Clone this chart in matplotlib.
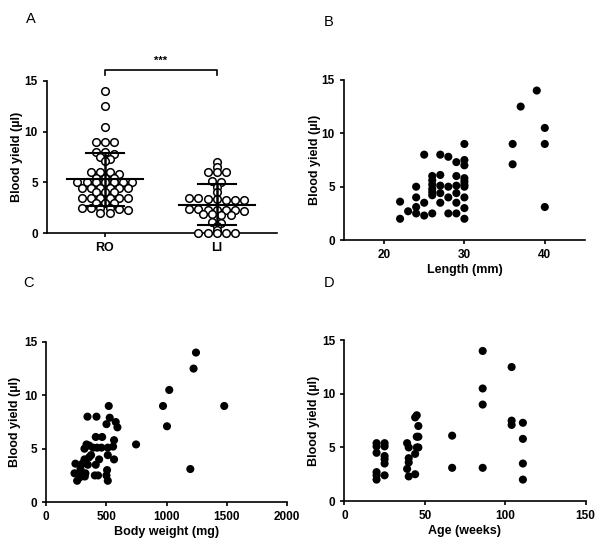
import numpy as np
from matplotlib import pyplot as plt

plt.rcParams['font.family'] = ['Liberation Sans', 'DejaVu Sans']

# panel A: blood yield per sampling site
ro_yield = [14.0, 12.5, 10.5, 9.0, 9.0, 9.0, 8.0, 8.0, 7.8, 7.5, 7.3, 7.1,
            6.0, 6.0, 6.0, 5.8, 5.4, 5.4, 5.4, 5.0, 5.0, 5.0, 5.0, 5.0, 5.0, 5.0,
            4.4, 4.4, 4.4, 4.4, 4.4, 4.4, 4.0, 4.0, 4.0,
            3.5, 3.5, 3.5, 3.5, 3.5, 3.5, 3.0, 3.0, 3.0,
            2.5, 2.5, 2.5, 2.5, 2.4, 2.3, 2.0, 2.0]
li_yield = [7.0, 6.5, 6.0, 6.0, 6.0, 5.1, 5.0, 4.5, 4.0,
            3.5, 3.5, 3.4, 3.4, 3.3, 3.3, 3.3,
            2.4, 2.4, 2.3, 2.3, 2.3, 2.3, 2.2,
            1.9, 1.9, 1.8, 1.8, 1.1, 1.0, 0.7, 0.3, 0.0, 0.0, 0.0, 0.0, 0.0]
site_names = ['RO', 'LI']
site_mean = [5.3, 2.8]
site_sd = [2.6, 2.0]

# panel B: length (mm)
len_mm = [22, 22, 23, 24, 24, 24, 24, 25, 25, 25,
          26, 26, 26, 26, 26, 26, 26, 27, 27, 27, 27, 27,
          28, 28, 28, 28, 29, 29, 29, 29, 29, 29,
          30, 30, 30, 30, 30, 30, 30, 30, 30, 30,
          36, 36, 37, 39, 40, 40, 40]
len_yield = [3.6, 2.0, 2.7, 5.0, 4.0, 3.1, 2.5, 8.0, 3.5, 2.3,
             6.0, 5.6, 5.2, 4.8, 4.5, 4.2, 2.5, 8.0, 6.1, 5.1, 4.4, 3.5,
             7.8, 5.0, 4.0, 2.5, 7.3, 6.0, 5.1, 4.4, 3.5, 2.5,
             9.0, 7.5, 7.0, 5.8, 5.5, 5.2, 5.0, 4.0, 3.0, 2.0,
             9.0, 7.1, 12.5, 14.0, 10.5, 9.0, 3.1]

# panel C: body weight (mg)
bw_mg = [343, 418, 520, 528, 501, 578, 592, 412, 465, 564,
         335, 357, 318, 390, 423, 459, 512, 556, 512, 440, 564, 373, 357, 318,
         346, 412, 243, 300, 235, 285, 326, 285, 506, 257, 277, 321, 404, 431,
         501, 512, 747, 971, 1004, 1023, 1225, 1245, 1198, 1480]
bw_yield = [8.0, 8.0, 9.0, 7.9, 7.3, 7.5, 7.0, 6.1, 6.1, 5.8,
            5.4, 5.3, 5.0, 5.1, 5.1, 5.1, 5.1, 5.2, 4.4, 4.0, 4.0, 4.4, 4.2, 4.0,
            3.5, 3.5, 3.6, 3.6, 2.7, 2.7, 2.7, 3.1, 3.0, 2.0, 2.3, 2.4, 2.5, 2.5,
            2.5, 2.0, 5.4, 9.0, 7.1, 10.5, 12.5, 14.0, 3.1, 9.0]

# panel D: age (weeks)
age_wk = [20, 20, 20, 20, 20, 20, 25, 25, 25, 25, 25, 25,
          39, 39, 40, 40, 40, 40, 44, 44, 44, 45, 45, 45, 46, 46, 46,
          67, 67, 86, 86, 86, 86, 104, 104, 104, 111, 111, 111, 111]
age_yield = [5.4, 5.1, 4.5, 2.7, 2.4, 2.0, 5.4, 5.1, 4.2, 3.9, 3.5, 2.4,
             5.4, 3.0, 5.0, 4.0, 3.6, 2.3, 7.8, 4.4, 2.5, 8.0, 6.0, 5.0, 7.0, 6.0, 5.0,
             6.1, 3.1, 14.0, 10.5, 9.0, 3.1, 12.5, 7.5, 7.1, 7.3, 5.8, 3.5, 2.0]

ylab = 'Blood yield (\u00b5l)'
bold = dict(fontweight='bold', fontsize=9)


def row_offsets(values, tol=0.25, step=0.082):
    """prism-like scatter: group close values into rows and centre each row"""
    vals = sorted(values, reverse=True)
    xs, ys = [], []
    row = []
    for v in vals + [None]:
        if row and (v is None or row[0] - v > tol):
            n = len(row)
            for k, rv in enumerate(row):
                xs.append((k - (n - 1) / 2) * step)
                ys.append(rv)
            row = []
        if v is not None:
            row.append(v)
    return np.array(xs), np.array(ys)


fig = plt.figure(figsize=(6.0, 5.47), dpi=100)
axA = fig.add_axes([0.078, 0.574, 0.384, 0.278])
axB = fig.add_axes([0.573, 0.561, 0.402, 0.293])
axC = fig.add_axes([0.077, 0.082, 0.401, 0.293])
axD = fig.add_axes([0.574, 0.084, 0.402, 0.294])


def style(ax):
    for s in ['top', 'right']:
        ax.spines[s].set_visible(False)
    for s in ['left', 'bottom']:
        ax.spines[s].set_linewidth(1.2)
    ax.tick_params(direction='out', length=3, width=1.2, labelsize=8.5)
    for lab in ax.get_xticklabels() + ax.get_yticklabels():
        lab.set_fontweight('bold')
    ax.set_ylim(0, 15)
    ax.set_yticks([0, 5, 10, 15])
    ax.set_ylabel(ylab, **bold)


# A: scatter dot plot with mean and SD
for i, vals in enumerate([ro_yield, li_yield]):
    dx, yy = row_offsets(vals)
    axA.scatter(i + dx, yy, s=30, facecolors='white', edgecolors='black',
                linewidths=1.1, zorder=3, clip_on=False)
for i, (m, sd) in enumerate(zip(site_mean, site_sd)):
    axA.plot([i - 0.34, i + 0.34], [m, m], color='black', lw=1.5, zorder=5)
    axA.plot([i - 0.17, i + 0.17], [m + sd, m + sd], color='black', lw=1.5, zorder=5)
    axA.plot([i - 0.17, i + 0.17], [m - sd, m - sd], color='black', lw=1.5, zorder=5)
    axA.plot([i, i], [m - sd, m + sd], color='black', lw=1.8, zorder=5)
axA.set_xlim(-0.52, 1.54)
style(axA)
axA.set_xticks([0, 1])
axA.set_xticklabels(site_names, fontweight='bold', fontsize=9)
# significance bracket
axA.plot([0, 0, 1, 1], [15.6, 16.1, 16.1, 15.6], color='black', lw=1.2, clip_on=False)
axA.text(0.5, 16.5, '***', ha='center', va='bottom', fontsize=8, fontweight='bold')

# B
axB.scatter(len_mm, len_yield, s=34, color='black', edgecolors='none')
axB.set_xlim(15, 45)
axB.set_xticks([20, 30, 40])
style(axB)
axB.set_xlabel('Length (mm)', **bold)

# C
axC.scatter(bw_mg, bw_yield, s=34, color='black', edgecolors='none')
axC.set_xlim(0, 2000)
axC.set_xticks([0, 500, 1000, 1500, 2000])
style(axC)
axC.set_xlabel('Body weight (mg)', **bold)

# D
axD.scatter(age_wk, age_yield, s=34, color='black', edgecolors='none')
axD.set_xlim(0, 150)
axD.set_xticks([0, 50, 100, 150])
style(axD)
axD.set_xlabel('Age (weeks)', **bold)

for ax, lx in [(axA, -0.104), (axB, -0.095), (axC, -0.104), (axD, -0.103)]:
    ax.yaxis.set_label_coords(lx, 0.5)
    ax.xaxis.labelpad = 2

for txt, x, y in [('A', 0.052, 0.978), ('B', 0.548, 0.973), ('C', 0.048, 0.495), ('D', 0.548, 0.495)]:
    fig.text(x, y, txt, fontsize=10.5, ha='center', va='top')

fig.savefig('out.png', dpi=100)
